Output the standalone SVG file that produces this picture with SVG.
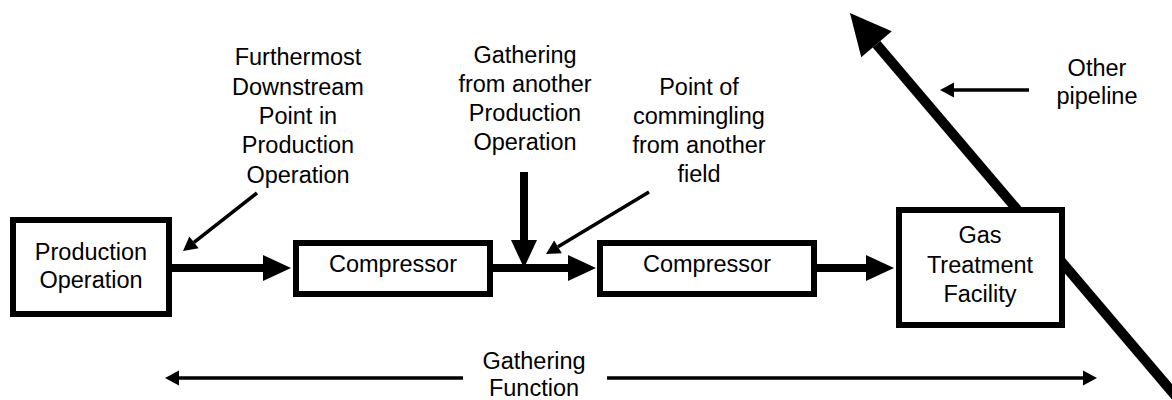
<svg xmlns="http://www.w3.org/2000/svg" width="1172" height="400" viewBox="0 0 1172 400">
<style>
  .box { fill: #fff; stroke: #000; stroke-width: 6; }
  .t { font-family: "Liberation Sans", Arial, sans-serif; font-size: 23.5px; fill: #000; text-anchor: middle; }
  .thick { stroke: #000; stroke-width: 8; fill: none; }
  .thin { stroke: #000; stroke-width: 3.5; fill: none; }
  .pipe { stroke: #000; stroke-width: 10; fill: none; }
</style>
<defs>
  <marker id="headThick" markerUnits="userSpaceOnUse" markerWidth="28" markerHeight="26" refX="0" refY="13" orient="auto" overflow="visible">
    <path d="M0,0 L28,13 L0,26 z" fill="#000"/>
  </marker>
  <marker id="headThin" markerUnits="userSpaceOnUse" markerWidth="14" markerHeight="15" refX="0" refY="7.5" orient="auto" overflow="visible">
    <path d="M0,0 L14,7.5 L0,15 z" fill="#000"/>
  </marker>
  <marker id="headPipe" markerUnits="userSpaceOnUse" markerWidth="41" markerHeight="40" refX="0" refY="20" orient="auto" overflow="visible">
    <path d="M0,0 L41,20 L0,40 z" fill="#000"/>
  </marker>
</defs>

<g id="connectors">
  <line class="pipe" x1="1179" y1="400" x2="876.5" y2="44.2" marker-end="url(#headPipe)"/>
  <line class="thick" x1="172" y1="268" x2="263" y2="268" marker-end="url(#headThick)"/>
  <line class="thick" x1="493" y1="268" x2="568" y2="268" marker-end="url(#headThick)"/>
  <line class="thick" x1="817" y1="268" x2="866" y2="268" marker-end="url(#headThick)"/>
  <line class="thick" x1="524" y1="172" x2="524" y2="240" marker-end="url(#headThick)"/>
  <line class="thin" x1="257" y1="193" x2="194" y2="242.4" marker-end="url(#headThin)"/>
  <line class="thin" x1="649" y1="192" x2="558" y2="246.8" marker-end="url(#headThin)"/>
  <line class="thin" x1="1029" y1="90" x2="954" y2="90" marker-end="url(#headThin)"/>
  <line class="thin" x1="463" y1="378" x2="179" y2="378" marker-end="url(#headThin)"/>
  <line class="thin" x1="607" y1="378" x2="1083" y2="378" marker-end="url(#headThin)"/>
</g>

<g id="production-operation">
  <rect class="box" x="13" y="220" width="156" height="94"/>
  <text class="t" x="91" y="260">Production</text>
  <text class="t" x="91" y="288">Operation</text>
</g>

<g id="compressor-1">
  <rect class="box" x="296" y="243" width="194" height="51"/>
  <text class="t" x="393" y="272">Compressor</text>
</g>

<g id="compressor-2">
  <rect class="box" x="600" y="243" width="214" height="51"/>
  <text class="t" x="707" y="272">Compressor</text>
</g>

<g id="gas-treatment-facility">
  <rect class="box" x="899" y="210" width="163" height="115"/>
  <text class="t" x="980" y="243">Gas</text>
  <text class="t" x="980" y="273">Treatment</text>
  <text class="t" x="980" y="302">Facility</text>
</g>

<g id="label-furthermost">
  <text class="t" x="298" y="65">Furthermost</text>
  <text class="t" x="298" y="95">Downstream</text>
  <text class="t" x="298" y="124">Point in</text>
  <text class="t" x="298" y="153">Production</text>
  <text class="t" x="298" y="183">Operation</text>
</g>

<g id="label-gathering-from">
  <text class="t" x="525" y="63">Gathering</text>
  <text class="t" x="525" y="92">from another</text>
  <text class="t" x="525" y="121">Production</text>
  <text class="t" x="525" y="150">Operation</text>
</g>

<g id="label-commingling">
  <text class="t" x="699" y="95">Point of</text>
  <text class="t" x="699" y="124">commingling</text>
  <text class="t" x="699" y="153">from another</text>
  <text class="t" x="699" y="182">field</text>
</g>

<g id="label-other-pipeline">
  <text class="t" x="1097" y="76">Other</text>
  <text class="t" x="1097" y="104">pipeline</text>
</g>

<g id="label-gathering-function">
  <text class="t" x="534" y="369">Gathering</text>
  <text class="t" x="534" y="396">Function</text>
</g>
</svg>
